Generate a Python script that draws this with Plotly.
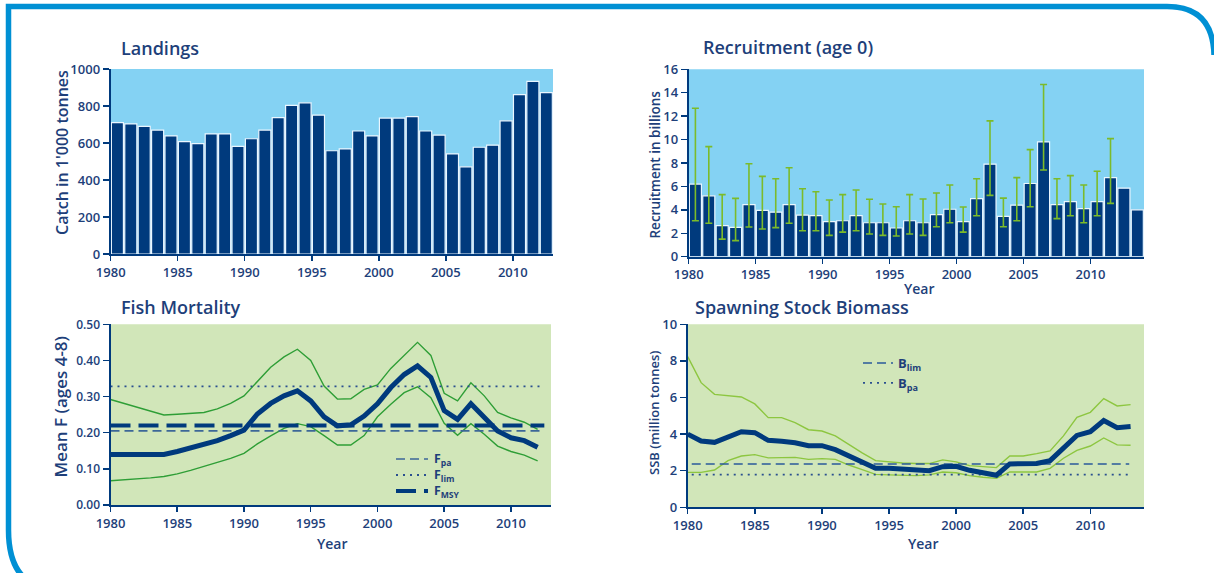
import plotly.graph_objects as go

# ---------------- data ----------------
land_years = list(range(1980, 2013))
landings = [710, 703, 690, 670, 638, 607, 597, 649, 649, 582, 623, 670, 737, 803, 817,
            751, 558, 568, 665, 638, 735, 735, 743, 665, 643, 541, 471, 577, 588, 720,
            862, 933, 872]

rec_years = list(range(1980, 2014))
recruit = [6.2, 5.2, 2.65, 2.5, 4.45, 3.95, 3.8, 4.45, 3.55, 3.5, 3.0, 3.07, 3.5, 2.9,
           2.9, 2.45, 3.07, 2.9, 3.6, 4.05, 3.0, 4.95, 7.9, 3.45, 4.4, 6.25, 9.8, 4.45,
           4.7, 4.1, 4.7, 6.75, 5.85, 4.0]
rec_hi = [12.67, 9.4, 5.3, 4.98, 7.94, 6.86, 6.66, 7.6, 5.8, 5.55, 4.84, 5.3, 5.7, 4.9,
          4.5, 4.27, 5.3, 4.93, 5.44, 6.12, 4.24, 6.66, 11.6, 5.0, 6.75, 9.14, 14.7, 6.66,
          6.92, 6.12, 7.3, 10.08]
rec_lo = [3.07, 2.85, 1.5, 1.37, 2.53, 2.36, 2.48, 2.85, 2.22, 2.22, 1.82, 2.1, 2.22, 1.94,
          1.82, 1.77, 1.94, 1.82, 2.56, 2.9, 2.1, 3.5, 5.24, 2.56, 3.07, 4.27, 7.4, 3.25,
          3.5, 2.9, 3.5, 4.55]

f_years = list(range(1980, 2013))
f_mean = [0.140, 0.140, 0.140, 0.140, 0.140, 0.148, 0.157, 0.166, 0.178, 0.192, 0.207,
          0.252, 0.281, 0.302, 0.316, 0.288, 0.244, 0.219, 0.222, 0.246, 0.280, 0.325,
          0.361, 0.385, 0.353, 0.261, 0.237, 0.280, 0.244, 0.205, 0.186, 0.178, 0.160]
f_hi = [0.292, 0.281, 0.270, 0.260, 0.249, 0.251, 0.253, 0.256, 0.266, 0.281, 0.302,
        0.341, 0.381, 0.410, 0.431, 0.400, 0.329, 0.293, 0.294, 0.320, 0.332, 0.378,
        0.413, 0.450, 0.414, 0.309, 0.288, 0.338, 0.302, 0.256, 0.241, 0.229, 0.209]
f_lo = [0.067, 0.069, 0.072, 0.075, 0.079, 0.086, 0.096, 0.107, 0.117, 0.129, 0.143,
        0.169, 0.191, 0.212, 0.225, 0.217, 0.192, 0.166, 0.166, 0.192, 0.244, 0.279,
        0.311, 0.327, 0.297, 0.226, 0.193, 0.225, 0.196, 0.163, 0.148, 0.138, 0.122]
f_ref_x = [1980, 2012.5]
F_pa, F_lim, F_msy = 0.205, 0.328, 0.22

ssb_years = list(range(1980, 2014))
ssb = [4.0, 3.62, 3.55, 3.84, 4.13, 4.08, 3.66, 3.61, 3.53, 3.37, 3.37, 3.15, 2.82, 2.48,
       2.13, 2.13, 2.09, 2.06, 2.0, 2.22, 2.24, 2.02, 1.86, 1.75, 2.37, 2.37, 2.39, 2.55,
       3.28, 3.93, 4.13, 4.74, 4.35, 4.41]
ssb_hi = [8.23, 6.81, 6.17, 6.1, 6.03, 5.65, 4.9, 4.9, 4.63, 4.24, 4.17, 3.9, 3.42, 2.97,
          2.55, 2.48, 2.42, 2.39, 2.39, 2.59, 2.48, 2.28, 2.22, 2.17, 2.8, 2.8, 2.93, 3.08,
          3.9, 4.92, 5.19, 5.94, 5.54, 5.61]
ssb_lo = [1.91, 1.91, 2.04, 2.55, 2.8, 2.88, 2.7, 2.71, 2.73, 2.62, 2.66, 2.62, 2.31, 2.06,
          1.8, 1.77, 1.73, 1.73, 1.77, 1.93, 1.89, 1.73, 1.64, 1.58, 1.93, 1.93, 1.93, 2.13,
          2.68, 3.11, 3.35, 3.79, 3.41, 3.39]
b_ref_x = [1980.3, 2012.9]
B_lim, B_pa = 2.37, 1.79

year_ticks = [1980, 1985, 1990, 1995, 2000, 2005, 2010]
fish_labels = ["F<sub>pa</sub>", "F<sub>lim</sub>", "F<sub>MSY</sub>"]

# ---------------- styles ----------------
W, H = 1214, 573
NAVY = "#003A7D"
TXT = "#1E3F7A"
SKY = "#84D2F3"
PALEGREEN = "#D1E6B9"
DKGREEN = "#2E9E36"
LTGREEN = "#8DC640"
ERRGREEN = "#7CBB2A"
FRAME = "#0090D4"
FONT = "Open Sans"

FPA_STYLE = dict(color="#3C6798", width=1.6, dash="9px,5px")
FLIM_STYLE = dict(color="#2A4F8F", width=1.8, dash="2px,5px")
FMSY_STYLE = dict(color=NAVY, width=4, dash="20px,8px")


def px(x):
    return x / W


def py(y):
    return 1 - y / H


fig = go.Figure()

# Landings
fig.add_trace(go.Bar(x=land_years, y=landings, width=0.9, offset=0.05,
                     marker=dict(color=NAVY, line=dict(color="#EAF6FF", width=1.2)),
                     xaxis="x", yaxis="y", showlegend=False))

# Recruitment
n_err = len(rec_hi)
fig.add_trace(go.Bar(x=rec_years, y=recruit, width=0.9, offset=0.05,
                     marker=dict(color=NAVY, line=dict(color="#EAF6FF", width=1.2)),
                     error_y=dict(type="data", symmetric=False,
                                  array=[rec_hi[i] - recruit[i] for i in range(n_err)],
                                  arrayminus=[recruit[i] - rec_lo[i] for i in range(n_err)],
                                  color=ERRGREEN, thickness=1.6, width=3.5),
                     xaxis="x2", yaxis="y2", showlegend=False))

# Fish mortality
fig.add_trace(go.Scatter(x=f_years, y=f_hi, mode="lines", line=dict(color=DKGREEN, width=1.4),
                         xaxis="x3", yaxis="y3", showlegend=False))
fig.add_trace(go.Scatter(x=f_years, y=f_lo, mode="lines", line=dict(color=DKGREEN, width=1.4),
                         xaxis="x3", yaxis="y3", showlegend=False))
fig.add_trace(go.Scatter(x=f_ref_x, y=[F_pa, F_pa], mode="lines", line=FPA_STYLE,
                         xaxis="x3", yaxis="y3", showlegend=False))
fig.add_trace(go.Scatter(x=f_ref_x, y=[F_lim, F_lim], mode="lines", line=FLIM_STYLE,
                         xaxis="x3", yaxis="y3", showlegend=False))
fig.add_trace(go.Scatter(x=f_ref_x, y=[F_msy, F_msy], mode="lines", line=FMSY_STYLE,
                         xaxis="x3", yaxis="y3", showlegend=False))
fig.add_trace(go.Scatter(x=f_years, y=f_mean, mode="lines", line=dict(color=NAVY, width=5),
                         xaxis="x3", yaxis="y3", showlegend=False))

# SSB
fig.add_trace(go.Scatter(x=ssb_years, y=ssb_hi, mode="lines", line=dict(color=LTGREEN, width=1.4),
                         xaxis="x4", yaxis="y4", showlegend=False))
fig.add_trace(go.Scatter(x=ssb_years, y=ssb_lo, mode="lines", line=dict(color=LTGREEN, width=1.4),
                         xaxis="x4", yaxis="y4", showlegend=False))
fig.add_trace(go.Scatter(x=b_ref_x, y=[B_lim, B_lim], mode="lines", name="<b>B<sub>lim</sub></b>",
                         line=dict(color="#2A5A9A", width=1.6, dash="9px,5px"),
                         xaxis="x4", yaxis="y4", legend="legend2"))
fig.add_trace(go.Scatter(x=b_ref_x, y=[B_pa, B_pa], mode="lines", name="<b>B<sub>pa</sub></b>",
                         line=dict(color="#2A4F8F", width=1.8, dash="2px,5px"),
                         xaxis="x4", yaxis="y4", legend="legend2"))
fig.add_trace(go.Scatter(x=ssb_years, y=ssb, mode="lines", line=dict(color=NAVY, width=5),
                         xaxis="x4", yaxis="y4", showlegend=False))

tickfont = dict(family=FONT, size=13, color=TXT, weight=600)


def xax(domain, rng, anchor):
    return dict(domain=domain, range=rng, anchor=anchor, tickvals=year_ticks,
                ticks="outside", ticklen=5, tickwidth=1.5, tickcolor=NAVY,
                showline=True, linecolor=NAVY, linewidth=2, showgrid=False,
                zeroline=False, tickfont=tickfont, fixedrange=True, automargin=False)


def yax(domain, rng, dtick, anchor, fmt=None, size=13):
    d = dict(domain=domain, range=rng, anchor=anchor, dtick=dtick, tick0=0,
             ticks="outside", ticklen=6, tickwidth=1.5, tickcolor=NAVY,
             showline=True, linecolor=NAVY, linewidth=2, showgrid=False,
             zeroline=False, tickfont=dict(tickfont, size=size), fixedrange=True,
             automargin=False)
    if fmt:
        d["tickformat"] = fmt
    return d


fig.update_layout(
    width=W, height=H, autosize=False,
    margin=dict(l=0, r=0, t=0, b=0, pad=0, autoexpand=False),
    paper_bgcolor="white", plot_bgcolor="rgba(0,0,0,0)",
    font=dict(family=FONT, color=TXT),
    bargap=0,
    hovermode=False,
    xaxis=xax([px(110.7), px(553)], [1980, 2013], "y"),
    yaxis=yax([py(254), py(69)], [0, 1000], 200, "x"),
    xaxis2=xax([px(688.7), px(1144)], [1980, 2014], "y2"),
    yaxis2=yax([py(256.7), py(69.3)], [0, 16], 2, "x2"),
    xaxis3=xax([px(110.5), px(551)], [1980, 2013], "y3"),
    yaxis3=yax([py(505), py(324.3)], [0, 0.5], 0.1, "x3", fmt=".2f", size=12),
    xaxis4=xax([px(687.7), px(1144)], [1980, 2014], "y4"),
    yaxis4=yax([py(507.3), py(324.3)], [0, 10], 2, "x4"),
    legend2=dict(x=px(858), y=py(348), xanchor="left", yanchor="top",
                 bgcolor="rgba(0,0,0,0)", font=dict(family=FONT, size=13, color=TXT),
                 itemwidth=30, tracegroupgap=0),
)

# panel backgrounds
shapes = []
for ax, col in [("", SKY), ("2", SKY), ("3", PALEGREEN), ("4", PALEGREEN)]:
    shapes.append(dict(type="rect", xref=f"x{ax} domain", yref=f"y{ax} domain",
                       x0=0, x1=1, y0=0, y1=1, fillcolor=col, line=dict(width=0),
                       layer="below"))

# Fish mortality legend: keys + one multi-line label block
ann = []
for style, yy in zip([FPA_STYLE, FLIM_STYLE, FMSY_STYLE], [459, 475, 491]):
    shapes.append(dict(type="line", xref="paper", yref="paper",
                       x0=px(396), x1=px(428), y0=py(yy), y1=py(yy), line=style))
ann.append(dict(text="<b>" + "<br>".join(fish_labels) + "</b>", x=px(432), y=py(475),
                xref="paper", yref="paper", xanchor="left", yanchor="middle",
                align="left", showarrow=False,
                font=dict(family=FONT, size=12.3, color=TXT)))

# page frame
frame_path = (f"M {px(60)},{py(590)} Q {px(8.5)},{py(590)} {px(8.5)},{py(530)} "
              f"L {px(8.5)},{py(6.5)} L {px(1167)},{py(6.5)} "
              f"Q {px(1213)},{py(6.5)} {px(1214)},{py(55)}")
shapes.append(dict(type="path", xref="paper", yref="paper", path=frame_path,
                   line=dict(color=FRAME, width=5.5), layer="above"))
fig.update_layout(shapes=shapes)

title_font = dict(family=FONT, size=18, color=TXT, weight=600)
ytitle_font = dict(family=FONT, size=16, color=TXT, weight=600)
small_title = dict(family=FONT, size=13.5, color=TXT, weight=600)
for text, x, y in [("Landings", 119, 48), ("Recruitment (age 0)", 701, 47),
                   ("Fish Mortality", 119, 307), ("Spawning Stock Biomass", 693, 307)]:
    ann.append(dict(text=text, x=px(x), y=py(y), xref="paper", yref="paper",
                    xanchor="left", yanchor="middle", showarrow=False, font=title_font))
for text, x, y, f in [("Catch in 1'000 tonnes", 62, 153, ytitle_font),
                      ("Recruitment in billions", 654, 164.5, small_title),
                      ("Mean F (ages 4-8)", 60, 407.5, dict(ytitle_font, size=17)),
                      ("SSB (million tonnes)", 654, 413, dict(small_title, size=13))]:
    ann.append(dict(text=text, x=px(x), y=py(y), xref="paper", yref="paper",
                    xanchor="center", yanchor="middle", textangle=-90,
                    showarrow=False, font=f))
for x, y in [(919, 288), (333, 543), (923, 543)]:
    ann.append(dict(text="Year", x=px(x), y=py(y), xref="paper", yref="paper",
                    xanchor="center", yanchor="middle", showarrow=False,
                    font=dict(family=FONT, size=14, color=TXT, weight=600)))
fig.update_layout(annotations=ann)

fig.write_html("out.html", config={"displayModeBar": False, "staticPlot": True},
               post_script="document.body.style.margin='0';document.body.style.overflow='hidden';")
